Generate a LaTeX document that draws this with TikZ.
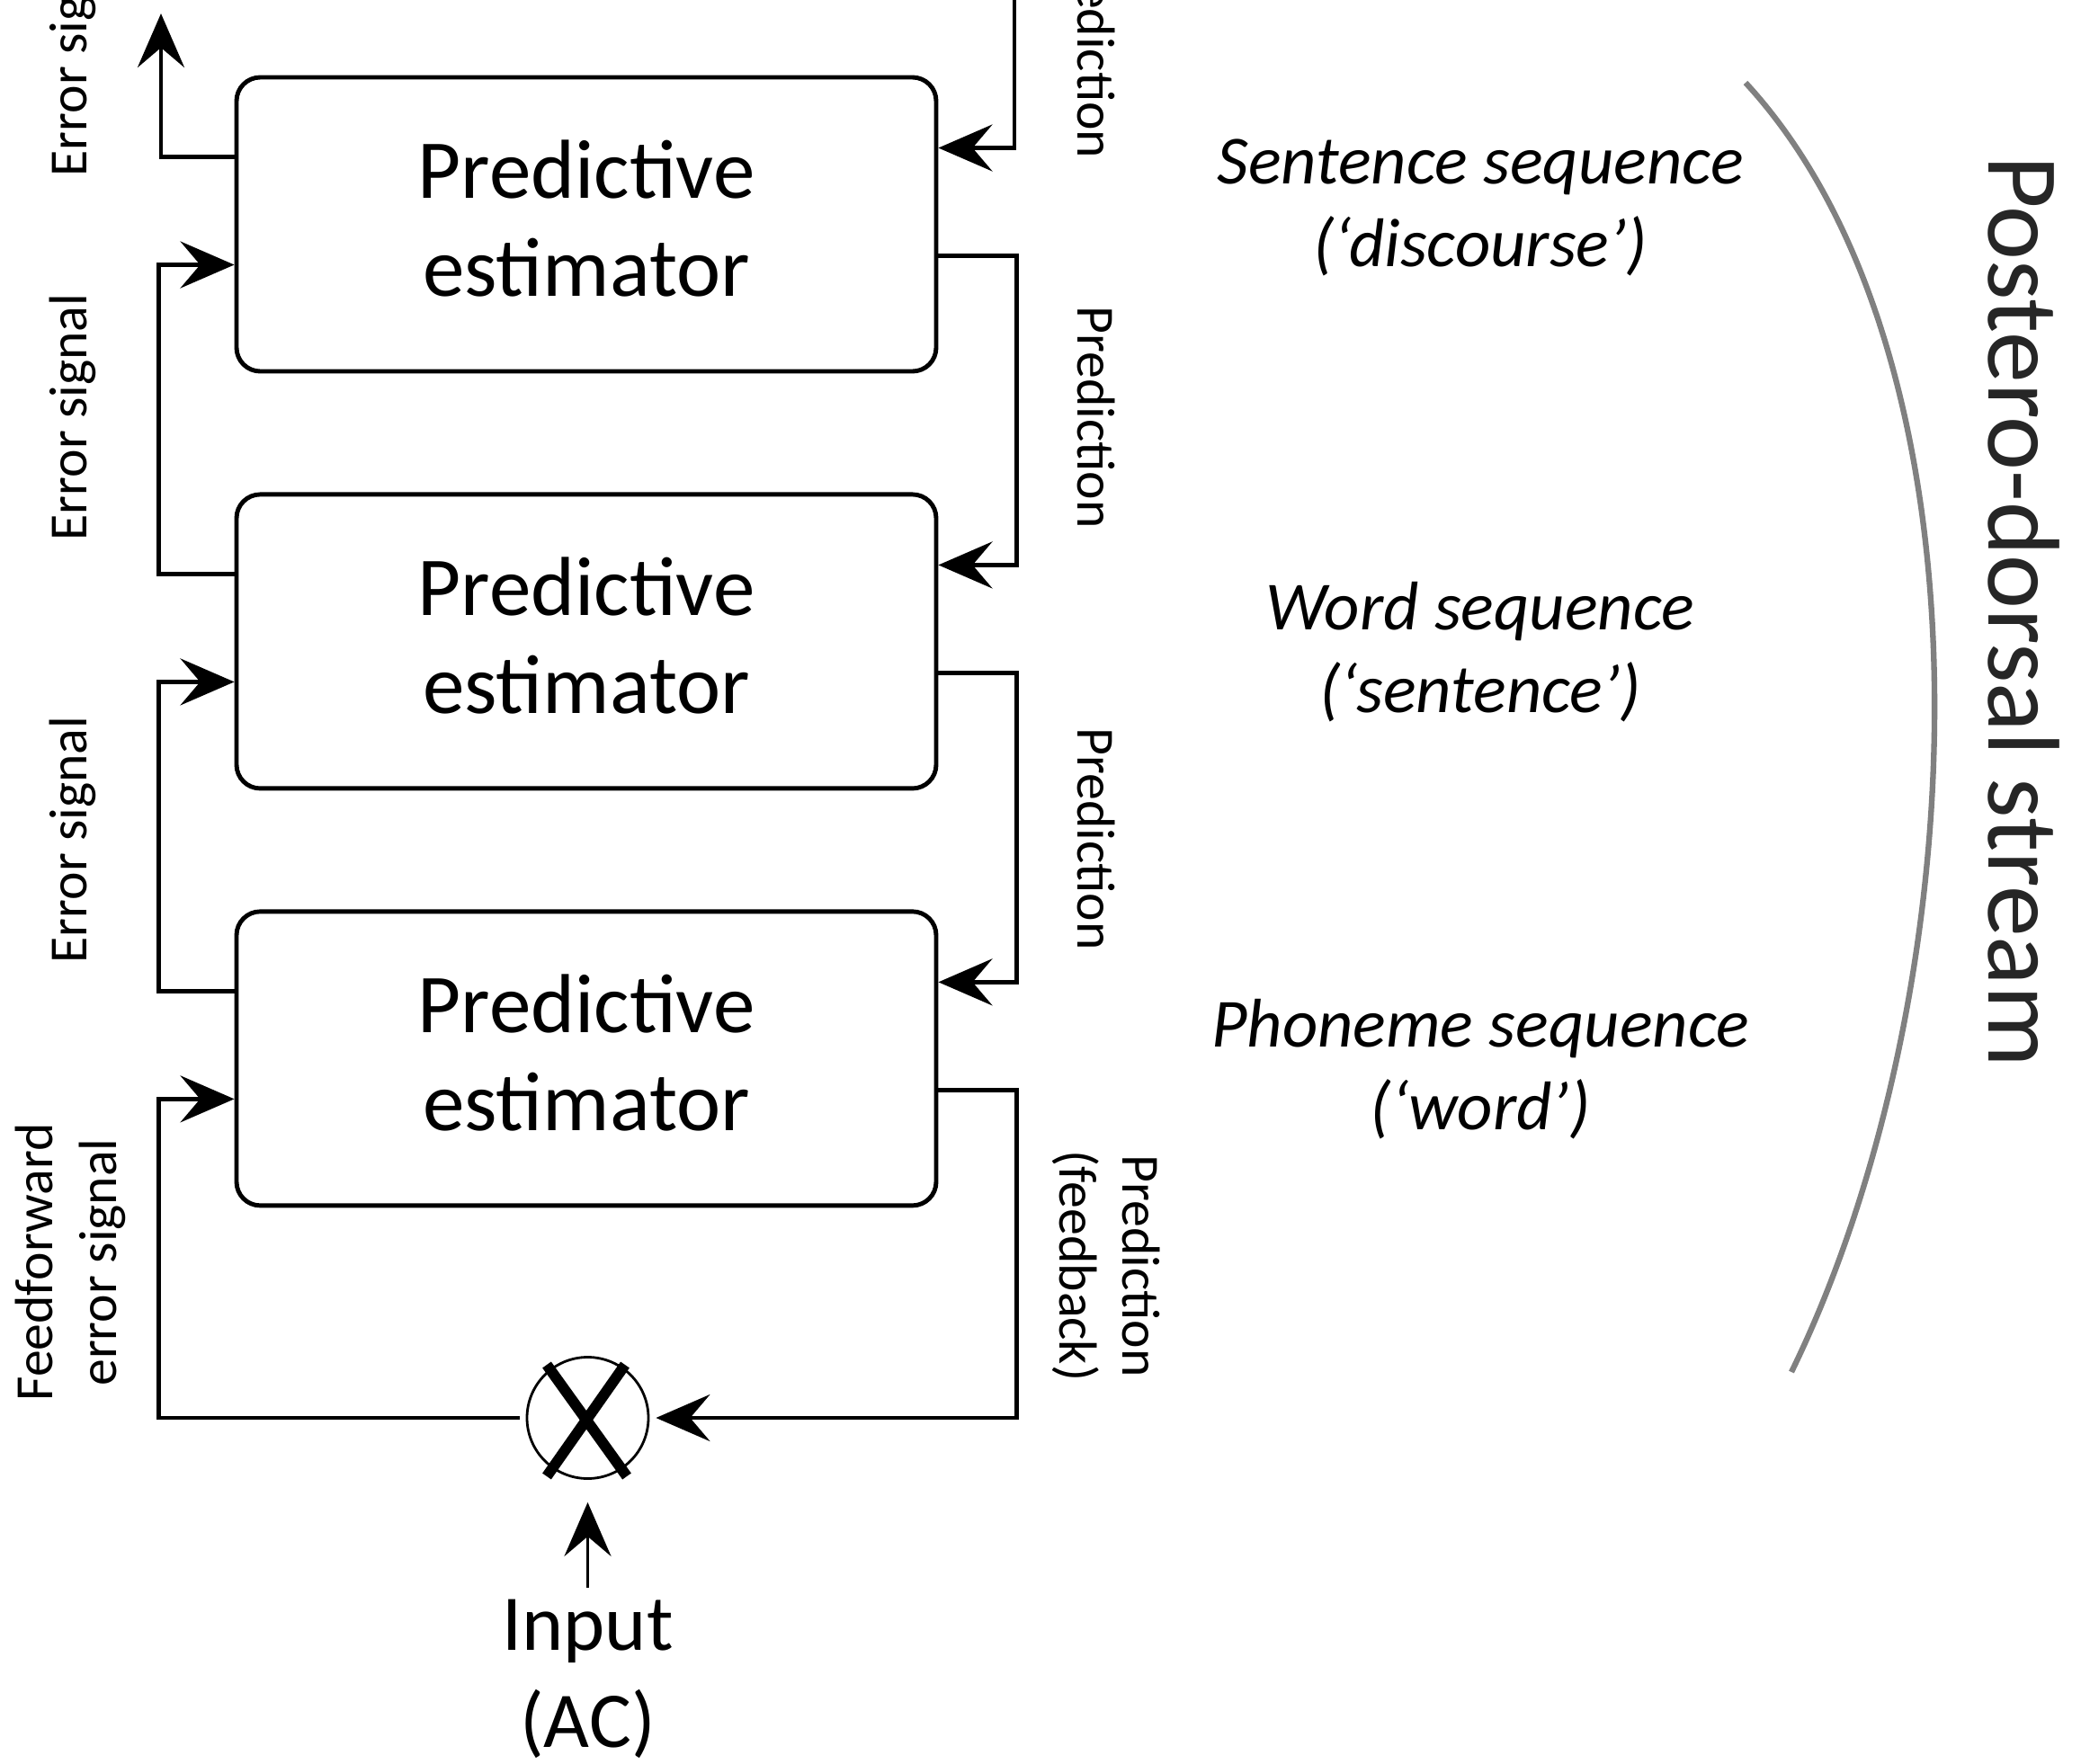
\documentclass[tikz,border=0pt]{standalone}
\usepackage{fontspec}
\setmainfont{Carlito}
\usepackage{tikz}
\usetikzlibrary{arrows.meta, positioning, shapes.geometric}
\tikzstyle{estimator} = [
    rectangle, rounded corners=7.5pt, minimum width=7.78cm, minimum height=3.27cm,
    align=center, draw=black, line width=1.4pt, text depth=0.14cm,
    font=\fontsize{26.5}{31}\selectfont
]
\tikzstyle{inputtext} = [align=center, inner sep=0pt, font=\fontsize{25}{31}\selectfont]
\tikzstyle{mixer} = [circle, draw=black, line width=0.8pt, minimum size=1.35cm, inner sep=0pt]
\tikzstyle{arrow} = [-{Stealth[length=6mm, width=5.2mm, inset=2.2mm]}, line width=1.4pt, draw=black]
\tikzstyle{sidelabel} = [inner sep=0pt, align=center, font=\fontsize{17}{20}\selectfont]
\tikzstyle{levelnote} = [inner sep=0pt, align=center, font=\fontsize{21.8}{26}\selectfont\itshape]
\tikzstyle{streamarc} = [draw=black!50, line width=1.8pt]

\begin{document}
\begin{tikzpicture}[node distance=1.32cm]
        \useasboundingbox (0,0) rectangle (23.14,-19.62);

        \node[estimator] (est1) at (6.52,-2.495) {Predictive\\estimator};
        \node[estimator, below=of est1] (est2) {Predictive\\estimator};
        \node[estimator, below=of est2] (est3) {Predictive\\estimator};
        \node[mixer] (mix) at (6.535,-15.77) {};
        \node[inputtext, below=1.32cm of mix] (inp) {Input\\(AC)};

        % the cross in the comparator
        \draw[line width=3.4pt] ([shift={(-0.455,0.59)}]mix.center) -- ([shift={(0.435,-0.65)}]mix.center);
        \draw[line width=3.4pt] ([shift={(0.415,0.59)}]mix.center) -- ([shift={(-0.455,-0.65)}]mix.center);

        % error signals, up the left side
        \coordinate (errtop) at (1.79,-0.15);
        \draw[arrow] ([yshift=0.75cm]est1.west) -| (errtop);
        \draw[arrow] ([yshift=0.75cm]est2.west) -- ++(-0.84,0) |- ([yshift=-0.45cm]est1.west);
        \draw[arrow] ([yshift=0.75cm]est3.west) -- ++(-0.84,0) |- ([yshift=-0.45cm]est2.west);
        \draw[arrow, shorten <=2pt] (mix.west) -| ([xshift=-0.84cm,yshift=-0.45cm]est3.west)
            -- ([yshift=-0.45cm]est3.west);

        % predictions, down the right side
        \coordinate (predtop) at (11.28,0.3);
        \draw[arrow] (predtop) |- ([yshift=0.85cm]est1.east);
        \draw[arrow] ([yshift=-0.35cm]est1.east) -- ++(0.87,0) |- ([yshift=0.85cm]est2.east);
        \draw[arrow] ([yshift=-0.35cm]est2.east) -- ++(0.87,0) |- ([yshift=0.85cm]est3.east);
        \draw[arrow, shorten >=2pt] ([yshift=-0.35cm]est3.east) -- ++(0.87,0) |- (mix.east);
        \draw[arrow, line width=1.1pt, shorten <=0.12cm, shorten >=0.25cm] (inp.north) -- (mix.south);

        % Labels
        \node[sidelabel, rotate=90, anchor=west] (err1) at (0.81,-1.97) {Error signal};
        \node[sidelabel, rotate=90] (err2) at (0.81,-4.64) {Error signal};
        \node[sidelabel, rotate=90] (err3) at (0.81,-9.34) {Error signal};
        \node[sidelabel, rotate=90] (ffwd) at (0.785,-14.04) {Feedforward\\error signal};
        \node[sidelabel, rotate=-90, anchor=east] (pred1) at (12.19,-1.77) {Prediction};
        \node[sidelabel, rotate=-90] (pred2) at (12.19,-4.64) {Prediction};
        \node[sidelabel, rotate=-90] (pred3) at (12.19,-9.33) {Prediction};
        \node[sidelabel, rotate=-90] (predfb) at (12.30,-14.08) {Prediction\\(feedback)};

        \node[levelnote] (sent) at (16.46,-2.31) {Sentence sequence\\(‘discourse’)};
        \node[levelnote] (word) at (16.46,-7.25) {Word sequence\\(‘sentence’)};
        \node[levelnote] (phon) at (16.46,-11.89) {Phoneme sequence\\(‘word’)};

        % stream
        \draw[streamarc] (19.41,-0.92) .. controls (22.25,-4.00) and (22.00,-11.00) .. (19.92,-15.26);
        \node[rotate=-90, inner sep=0pt, text=black!85,
              font=\fontsize{32.3}{38}\selectfont] (stream) at (22.50,-6.80) {Postero-dorsal stream};
    \end{tikzpicture}
\end{document}
